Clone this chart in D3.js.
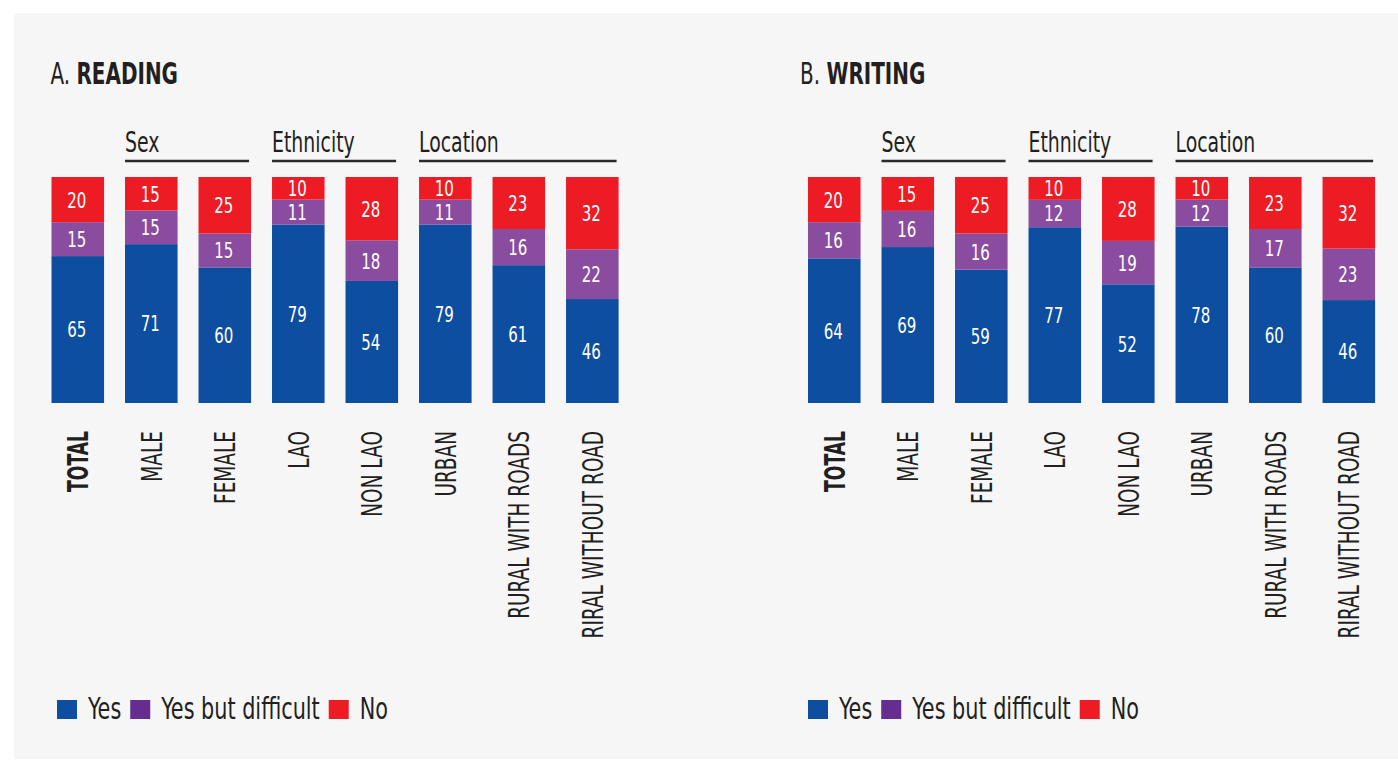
<!DOCTYPE html>
<html>
<head>
<meta charset="utf-8">
<script src="https://cdn.jsdelivr.net/npm/d3@7"></script>
<style>
  body { margin: 0; background: #fff; }
  text { font-family: "DejaVu Sans Condensed", "DejaVu Sans", sans-serif; fill: #231f20; }
</style>
</head>
<body>
<script>
// categories and groups
var categories = ["TOTAL", "MALE", "FEMALE", "LAO", "NON LAO", "URBAN", "RURAL WITH ROADS", "RIRAL WITHOUT ROAD"];
var groupNames = ["Sex", "Ethnicity", "Location"];
var groupFirst = ["MALE", "LAO", "URBAN"];
var groupLast = ["FEMALE", "NON LAO", "RIRAL WITHOUT ROAD"];

// series (percent)
var readingYes = [65, 71, 60, 79, 54, 79, 61, 46];
var readingDifficult = [15, 15, 15, 11, 18, 11, 16, 22];
var readingNo = [20, 15, 25, 10, 28, 10, 23, 32];

var writingYes = [64, 69, 59, 77, 52, 78, 60, 46];
var writingDifficult = [16, 16, 16, 12, 19, 12, 17, 23];
var writingNo = [20, 15, 25, 10, 28, 10, 23, 32];

var seriesKeys = ["yes", "difficult", "no"];
var legendLabels = ["Yes", "Yes but difficult", "No"];
var barColors = ["#0d4ea1", "#8a4c9f", "#ed1c24"];
var legendColors = ["#0d4ea1", "#662d91", "#ed1c24"];

var W = 1398, H = 760;

// the reference font is very condensed, squeeze the text horizontally
function squeeze(x, y, s) {
    return "translate(" + x + "," + y + ") scale(" + s + ",1)";
}

var svg = d3.select("body").append("svg")
    .attr("width", W)
    .attr("height", H);

svg.append("rect")
    .attr("x", 14).attr("y", 13)
    .attr("width", W - 14).attr("height", 746)
    .attr("fill", "#f6f6f6");

var y = d3.scaleLinear().domain([0, 1]).range([403, 177]);
var color = d3.scaleOrdinal().domain(seriesKeys).range(barColors);

function drawPanel(ox, titleX, legendX, letter, name, yes, difficult, no) {
    var g = svg.append("g").attr("transform", "translate(" + ox + ",0)");

    var x = d3.scaleBand()
        .domain(categories)
        .range([51.5, 618.6])
        .paddingInner(0.285)
        .paddingOuter(0);

    var rows = categories.map(function(c, i) {
        return {cat: c, yes: yes[i], difficult: difficult[i], no: no[i]};
    });

    var stacked = d3.stack()
        .keys(seriesKeys)
        .offset(d3.stackOffsetExpand)(rows);

    // title
    var t = svg.append("text")
        .attr("transform", squeeze(titleX, 84, 0.74))
        .attr("font-size", 30);
    t.append("tspan").text(letter + ". ");
    t.append("tspan").attr("font-weight", "bold").text(name);

    // group headers
    groupNames.forEach(function(gn, i) {
        var x0 = x(groupFirst[i]), x1 = x(groupLast[i]) + x.bandwidth() - 2;
        g.append("text")
            .attr("transform", squeeze(x0, 152, 0.75))
            .attr("font-size", 28)
            .text(gn);
        g.append("line")
            .attr("x1", x0).attr("x2", x1)
            .attr("y1", 161).attr("y2", 161)
            .attr("stroke", "#2b2b2b")
            .attr("stroke-width", 2.5);
    });

    // bars
    var layer = g.selectAll(".layer")
        .data(stacked)
        .enter().append("g")
        .attr("class", "layer")
        .attr("fill", function(d) { return color(d.key); });

    layer.selectAll("rect")
        .data(function(d) { return d; })
        .enter().append("rect")
        .attr("x", function(d) { return x(d.data.cat); })
        .attr("y", function(d) { return y(d[1]); })
        .attr("width", x.bandwidth())
        .attr("height", function(d) { return y(d[0]) - y(d[1]); });

    // value labels
    stacked.forEach(function(s) {
        g.selectAll(null)
            .data(s)
            .enter().append("text")
            .attr("transform", function(d) {
                return squeeze(x(d.data.cat) + x.bandwidth() / 2 - 1, (y(d[0]) + y(d[1])) / 2, 0.76);
            })
            .attr("dy", "0.36em")
            .attr("text-anchor", "middle")
            .attr("font-size", 22)
            .style("fill", "#fff")
            .text(function(d) { return d.data[s.key]; });
    });

    // category labels (rotated)
    g.selectAll(".cat")
        .data(categories)
        .enter().append("text")
        .attr("class", "cat")
        .attr("transform", function(d, i) {
            return "translate(" + (x(d) + x.bandwidth() / 2) + ",431) rotate(-90) scale(" + (i === 0 ? 0.66 : 0.71) + ",1)";
        })
        .attr("text-anchor", "end")
        .attr("dy", "0.36em")
        .attr("font-size", 29)
        .attr("font-weight", function(d, i) { return i === 0 ? "bold" : null; })
        .text(function(d) { return d; });

    // legend
    var ls = 0.77;
    var lg = svg.append("g").attr("transform", "translate(" + legendX + ",700)");
    var lx = 0;
    legendLabels.forEach(function(lab, i) {
        lg.append("rect")
            .attr("x", lx).attr("y", 0)
            .attr("width", 20).attr("height", 19)
            .attr("fill", legendColors[i]);
        var tx = lg.append("text")
            .attr("transform", squeeze(lx + 31, 19, ls))
            .attr("font-size", 30)
            .text(lab);
        lx += 31 + tx.node().getComputedTextLength() * ls + 9;
    });
}

drawPanel(0, 50.5, 57, "A", "READING", readingYes, readingDifficult, readingNo);
drawPanel(756.5, 800, 808, "B", "WRITING", writingYes, writingDifficult, writingNo);
</script>
</body>
</html>
